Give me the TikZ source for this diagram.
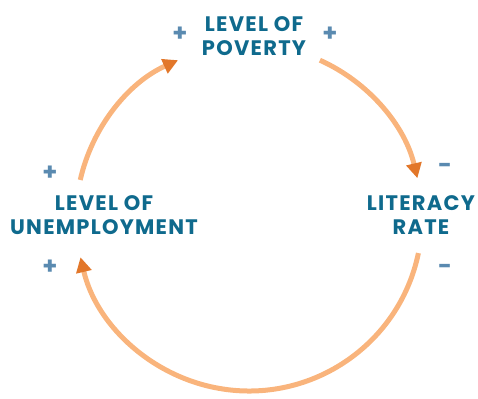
\documentclass[tikz,border=0pt]{standalone}
\usepackage{fontspec}
\setmainfont{Poppins}
\usetikzlibrary{arrows.meta}
\definecolor{txtblue}{HTML}{0F6A8D}
\definecolor{signblue}{HTML}{5A8AB0}
\definecolor{arcorange}{HTML}{F9B47C}
\definecolor{tiporange}{HTML}{E2772A}
\tikzset{
  label/.style={font=\fontsize{21}{24}\selectfont\bfseries\addfontfeature{LetterSpace=6}, text=txtblue, align=center, inner sep=0pt},
  sign/.style={font=\fontsize{24}{24}\selectfont\bfseries, text=signblue, inner sep=0pt},
  loop/.style={draw=arcorange, line width=5pt, -{Triangle[length=15pt,width=15pt,color=tiporange]}}
}
\begin{document}
\begin{tikzpicture}[x=1pt,y=1pt]
\useasboundingbox (0,0) rectangle (478,398);
\coordinate (O) at (249,180);
% labels
\node[label] (poverty) at (254,362) {LEVEL OF\\POVERTY};
\node[label] (literacy) at (421,183) {LITERACY\\RATE};
\node[label] (unemp) at (104,183) {LEVEL OF\\UNEMPLOYMENT};
% signs
\node[sign] (p1) at (180,364) {+};
\node[sign] (p2) at (330,364) {+};
\node[sign] (l1) at (445,230) {-};
\node[sign] (l2) at (445,129) {-};
\node[sign] (u1) at (50,225) {+};
\node[sign] (u2) at (50,131) {+};
% arcs
\draw[loop] (O) ++(65.8:173pt) coordinate (a1) arc[start angle=65.8, end angle=13.3, radius=173pt] coordinate (a2);
\draw[loop] (O) ++(-11.7:173pt) coordinate (b1) arc[start angle=-11.7, end angle=-166.9, radius=173pt] coordinate (b2);
\draw[loop] (O) ++(167.3:173pt) coordinate (c1) arc[start angle=167.3, end angle=114.2, radius=173pt] coordinate (c2);
\end{tikzpicture}
\end{document}
